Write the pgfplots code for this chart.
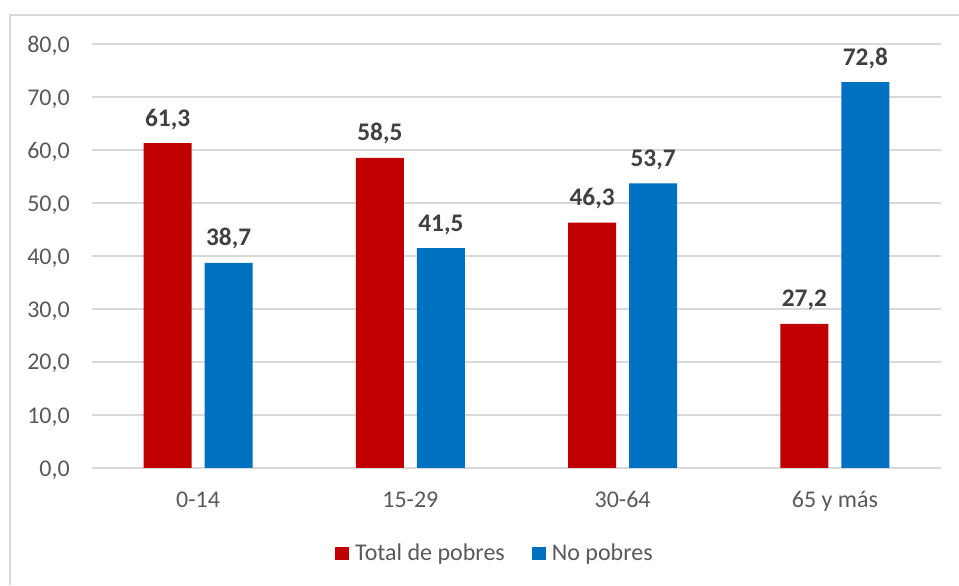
\documentclass[border=0pt]{standalone}
\usepackage{pgfplots}
\pgfplotsset{compat=1.18}
\usepackage{fontspec}
\setmainfont{Carlito}
\definecolor{rojo}{HTML}{C00000}
\definecolor{azul}{HTML}{0070C0}
\definecolor{rejilla}{HTML}{D9D9D9}
\definecolor{texto}{HTML}{595959}
\definecolor{etiq}{HTML}{404040}
\begin{document}
\begin{tikzpicture}
\path[use as bounding box] (0pt,0pt) rectangle (719.25pt,438.75pt);
% borde del area del grafico (solo izquierda y arriba visibles)
\draw[rejilla, line width=1.1pt] (7.5pt,0pt) -- (7.5pt,427.5pt) -- (719.25pt,427.5pt);
\begin{axis}[
  at={(69pt,87.75pt)}, anchor=south west,
  scale only axis, width=636.75pt, height=318pt,
  ybar,
  ymin=0, ymax=80, ytick={0,10,...,80},
  xmin=-0.5, xmax=3.5, xtick={0,1,2,3},
  xticklabels={0-14,15-29,30-64,65 y más},
  enlarge x limits=false, enlarge y limits=false,
  axis line style={draw=none},
  major tick length=0pt, tick style={draw=none},
  ymajorgrids, grid style={rejilla, line width=1.1pt},
  /pgf/number format/fixed, /pgf/number format/fixed zerofill,
  /pgf/number format/precision=1, /pgf/number format/use comma,
  /pgf/number format/assume math mode=true,
  ticklabel style={font=\fontsize{18}{21}\selectfont, text=texto, inner sep=0pt},
  xticklabel style={anchor=base, yshift=-30pt},
  yticklabel style={anchor=base east, xshift=-16.5pt, yshift=-6pt},
  nodes near coords,
  nodes near coords style={font=\bfseries\fontsize{19}{22}\selectfont, text=etiq,
    anchor=base, yshift=12.75pt, inner sep=0pt},
  legend columns=2,
  legend image code/.code={\fill[#1] (0pt,0pt) rectangle (10.5pt,10pt);},
  legend style={at={(0.2862,-0.2005)}, anchor=west, draw=none, fill=none,
    inner sep=0pt, font=\fontsize{18}{21}\selectfont,
    nodes={text=texto, inner sep=0pt}, cells={anchor=base west},
    /tikz/every odd column/.style={column sep=4.5pt},
    /tikz/every even column/.style={column sep=20.25pt}},
]
\addplot[fill=rojo, draw=none, bar width=36pt, bar shift=-22.875pt]
  coordinates {(0,61.3) (1,58.5) (2,46.3) (3,27.2)};
\addplot[fill=azul, draw=none, bar width=36pt, bar shift=22.875pt]
  coordinates {(0,38.7) (1,41.5) (2,53.7) (3,72.8)};
\legend{Total de pobres, No pobres}
\end{axis}
\end{tikzpicture}
\end{document}
